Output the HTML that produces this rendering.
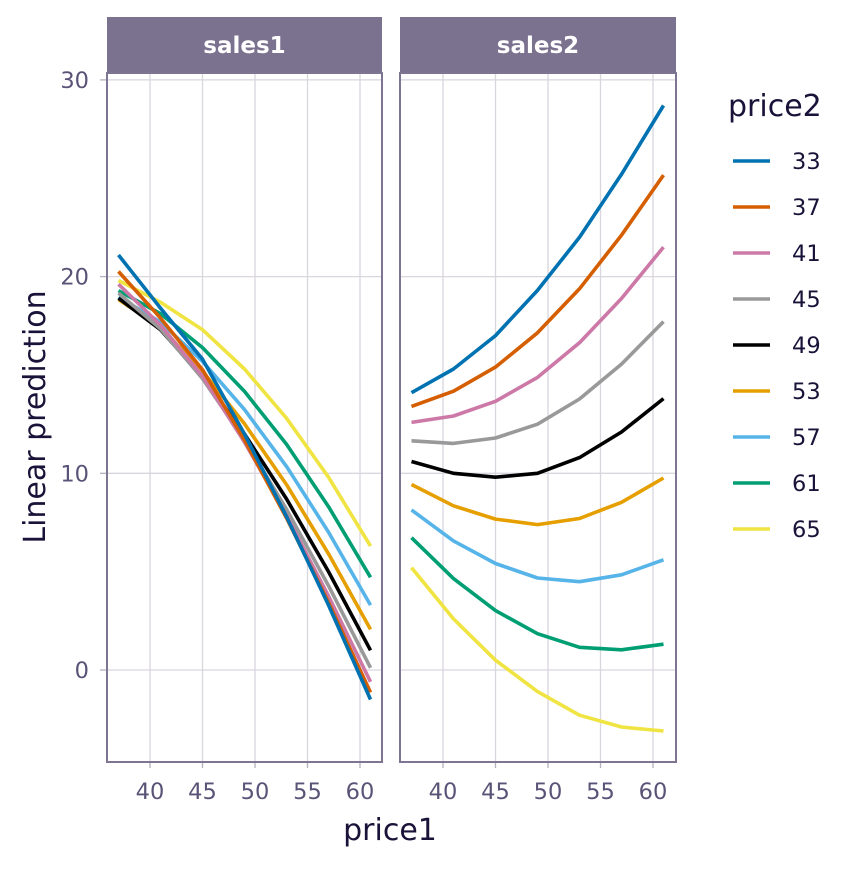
<!DOCTYPE html>
<html><head><meta charset="utf-8"><style>
html,body{margin:0;padding:0;background:#fff;}
svg text{font-family:"DejaVu Sans","Liberation Sans",sans-serif;}
</style></head><body>
<svg id="s" width="864" height="865" viewBox="0 0 864 865" xmlns="http://www.w3.org/2000/svg"></svg>
<script>
const s=document.getElementById('s');
const NS='http://www.w3.org/2000/svg';
function el(t,a,txt){const e=document.createElementNS(NS,t);for(const k in a)e.setAttribute(k,a[k]);if(txt!==undefined)e.textContent=txt;s.appendChild(e);return e;}
const Y=v=>670-19.67*v;
const panels=[{x0:107,x1:382,off:0,name:'sales1'},{x0:400,x1:676,off:293,name:'sales2'}];
const axc='#7d7592', tc='#5b5377';
panels.forEach(p=>{
  [0,10,20,30].forEach(v=>el('line',{x1:p.x0,x2:p.x1,y1:Y(v),y2:Y(v),stroke:'#d9d6de','stroke-width':1.3}));
  [40,45,50,55,60].forEach(v=>{const x=150+(v-40)*10.5+p.off;
    el('line',{x1:x,x2:x,y1:73,y2:762,stroke:'#d9d6de','stroke-width':1.3});
    el('line',{x1:x,x2:x,y1:762,y2:768,stroke:'#b5b0c0','stroke-width':1.3});
    el('text',{x:x,y:799,'text-anchor':'middle','font-size':22.5,fill:tc},String(v));});
  el('rect',{x:p.x0,y:17,width:p.x1-p.x0,height:56,fill:'#7b7290'});
  el('text',{x:(p.x0+p.x1)/2,y:53,'text-anchor':'middle','font-size':23,'font-weight':'bold',fill:'#fff'},p.name);
});
[0,10,20,30].forEach(v=>{el('line',{x1:100,x2:107,y1:Y(v),y2:Y(v),stroke:'#b5b0c0','stroke-width':1.3});
  el('text',{x:89,y:Y(v)+8,'text-anchor':'end','font-size':22.5,fill:tc},String(v));});
const cols={33:'#0072B2',37:'#D55E00',41:'#CC79A7',45:'#999999',49:'#000000',53:'#E69F00',57:'#56B4E9',61:'#009E73',65:'#F0E442'};
const d1={lo:[21.1,18.4,15.8,12.0,7.8,3.3,-1.5],mid:[18.9,17.3,14.9,12.0,8.7,5.0,1.0],hi:[19.8,18.7,17.3,15.3,12.8,9.8,6.3]};
const d2={lo:[14.1,15.3,17.0,19.3,22.0,25.2,28.7],mid:[10.6,10.0,9.8,10.0,10.8,12.1,13.8],hi:[5.2,2.6,0.5,-1.1,-2.3,-2.9,-3.1]};
const px=[37,41,45,49,53,57,61];
[d1,d2].forEach((d,pi)=>{
  const p=panels[pi];
  [65,61,57,53,49,45,41,37,33].forEach(p2=>{
    const t=(p2-49)/16;
    const pts=px.map((x,i)=>{const a=d.mid[i],b=(d.hi[i]-d.lo[i])/2,c=(d.hi[i]+d.lo[i])/2-a;
      return (150+(x-40)*10.5+p.off).toFixed(1)+','+Y(a+b*t+c*t*t).toFixed(1);});
    el('polyline',{points:pts.join(' '),fill:'none',stroke:cols[p2],'stroke-width':3.6,'stroke-linejoin':'round'});
  });
  el('rect',{x:p.x0,y:73,width:p.x1-p.x0,height:689,fill:'none',stroke:axc,'stroke-width':2});
});
el('text',{x:390,y:840,'text-anchor':'middle','font-size':30,fill:'#1a1238'},'price1');
el('text',{x:0,y:0,transform:'translate(45,417) rotate(-90)','text-anchor':'middle','font-size':30,fill:'#1a1238'},'Linear prediction');
el('text',{x:728,y:116,'font-size':30,fill:'#1a1238'},'price2');
[33,37,41,45,49,53,57,61,65].forEach((v,i)=>{const y=161+i*46;
  el('line',{x1:733,x2:770,y1:y,y2:y,stroke:cols[v],'stroke-width':3.6});
  el('text',{x:792,y:y+8,'font-size':22.5,fill:'#1a1238'},String(v));});
</script>
</body></html>
